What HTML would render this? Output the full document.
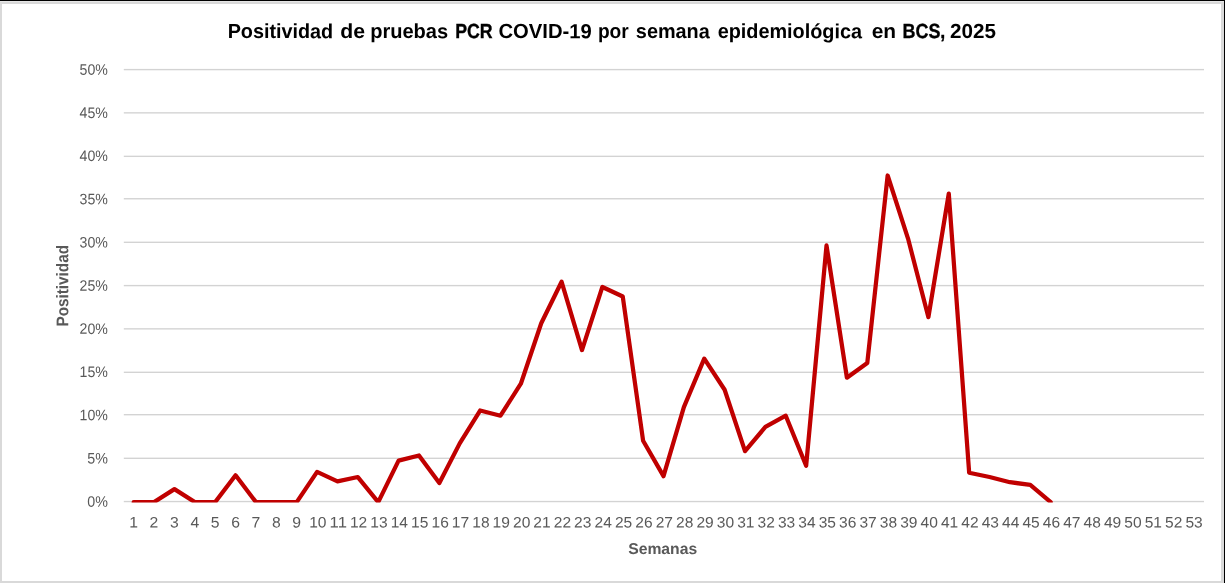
<!DOCTYPE html>
<html><head><meta charset="utf-8"><title>Positividad de pruebas PCR COVID-19</title>
<style>
html,body{margin:0;padding:0;background:#fff;}
body{width:1225px;height:583px;overflow:hidden;}
svg{display:block;will-change:transform;}
text{font-family:"Liberation Sans",sans-serif;}
.tick{font-size:15.2px;fill:#595959;}
.title{font-size:20.4px;font-weight:bold;fill:#000;}
.atitle{font-size:15.6px;font-weight:bold;fill:#595959;}
.vtitle{font-size:16.9px;font-weight:bold;fill:#595959;}
</style></head><body>
<svg width="1225" height="583" viewBox="0 0 1225 583">
<rect x="0" y="0" width="1225" height="583" fill="#fff"/>
<g shape-rendering="crispEdges">
<rect x="0" y="1" width="1224" height="3" fill="#d9d9d9"/>
<rect x="0" y="1" width="2" height="582" fill="#d9d9d9"/>
<rect x="1221" y="1" width="3" height="582" fill="#d9d9d9"/>
<rect x="0" y="581" width="1224" height="2" fill="#d9d9d9"/>
<rect x="0" y="1" width="1224" height="1" fill="#e6e6e6"/>
<rect x="0" y="0" width="1225" height="1" fill="#000"/>
<rect x="1224" y="0" width="1" height="583" fill="#000"/>
</g>
<rect x="123.8" y="500.86" width="1080.2" height="1.38" fill="#d3d3d3"/>
<rect x="123.8" y="457.61" width="1080.2" height="1.38" fill="#d3d3d3"/>
<rect x="123.8" y="414.01" width="1080.2" height="1.38" fill="#d3d3d3"/>
<rect x="123.8" y="371.61" width="1080.2" height="1.38" fill="#d3d3d3"/>
<rect x="123.8" y="328.16" width="1080.2" height="1.38" fill="#d3d3d3"/>
<rect x="123.8" y="284.91" width="1080.2" height="1.38" fill="#d3d3d3"/>
<rect x="123.8" y="241.61" width="1080.2" height="1.38" fill="#d3d3d3"/>
<rect x="123.8" y="198.06" width="1080.2" height="1.38" fill="#d3d3d3"/>
<rect x="123.8" y="155.66" width="1080.2" height="1.38" fill="#d3d3d3"/>
<rect x="123.8" y="112.16" width="1080.2" height="1.38" fill="#d3d3d3"/>
<rect x="123.8" y="68.91" width="1080.2" height="1.38" fill="#d3d3d3"/>

<defs><clipPath id="pc"><rect x="124" y="60" width="1080" height="442.4"/></clipPath></defs>
<polyline clip-path="url(#pc)" points="133.69,502.10 154.07,502.10 174.44,489.14 194.82,502.10 215.20,502.10 235.58,475.32 255.95,502.10 276.33,502.10 296.71,502.10 317.08,471.86 337.46,481.36 357.84,477.04 378.22,502.10 398.59,460.63 418.97,455.44 439.35,483.09 459.73,443.35 480.10,410.52 500.48,415.70 520.86,383.73 541.24,323.25 561.61,281.78 581.99,350.04 602.37,286.96 622.75,296.47 643.12,440.76 663.50,476.18 683.88,407.06 704.25,358.68 724.63,389.78 745.01,451.12 765.39,426.93 785.76,415.70 806.14,465.81 826.52,245.49 846.90,377.68 867.27,363.00 887.65,175.51 908.03,238.58 928.41,317.20 948.78,193.65 969.16,472.72 989.54,477.04 1009.92,482.23 1030.29,484.82 1050.67,502.10" fill="none" stroke="#c00000" stroke-width="4.25" stroke-linejoin="round" stroke-linecap="round"/>
<g>
<text x="87.30" y="506.70" textLength="20.60" lengthAdjust="spacingAndGlyphs" transform="rotate(0.1 97.6 501.7)" class="tick">0%</text>
<text x="87.30" y="463.50" textLength="20.60" lengthAdjust="spacingAndGlyphs" transform="rotate(0.1 97.6 458.5)" class="tick">5%</text>
<text x="79.60" y="420.30" textLength="28.30" lengthAdjust="spacingAndGlyphs" transform="rotate(0.1 93.8 415.3)" class="tick">10%</text>
<text x="79.60" y="377.10" textLength="28.30" lengthAdjust="spacingAndGlyphs" transform="rotate(0.1 93.8 372.1)" class="tick">15%</text>
<text x="79.60" y="333.90" textLength="28.30" lengthAdjust="spacingAndGlyphs" transform="rotate(0.1 93.8 328.9)" class="tick">20%</text>
<text x="79.60" y="290.70" textLength="28.30" lengthAdjust="spacingAndGlyphs" transform="rotate(0.1 93.8 285.7)" class="tick">25%</text>
<text x="79.60" y="247.50" textLength="28.30" lengthAdjust="spacingAndGlyphs" transform="rotate(0.1 93.8 242.5)" class="tick">30%</text>
<text x="79.60" y="204.30" textLength="28.30" lengthAdjust="spacingAndGlyphs" transform="rotate(0.1 93.8 199.3)" class="tick">35%</text>
<text x="79.60" y="161.10" textLength="28.30" lengthAdjust="spacingAndGlyphs" transform="rotate(0.1 93.8 156.1)" class="tick">40%</text>
<text x="79.60" y="117.90" textLength="28.30" lengthAdjust="spacingAndGlyphs" transform="rotate(0.1 93.8 112.9)" class="tick">45%</text>
<text x="79.60" y="74.70" textLength="28.30" lengthAdjust="spacingAndGlyphs" transform="rotate(0.1 93.8 69.7)" class="tick">50%</text>
<text x="129.26" y="527.55" textLength="8.75" lengthAdjust="spacingAndGlyphs" transform="rotate(0.1 133.6 522.5)" class="tick">1</text>
<text x="149.64" y="527.55" textLength="8.75" lengthAdjust="spacingAndGlyphs" transform="rotate(0.1 154.0 522.5)" class="tick">2</text>
<text x="170.02" y="527.55" textLength="8.75" lengthAdjust="spacingAndGlyphs" transform="rotate(0.1 174.4 522.5)" class="tick">3</text>
<text x="190.40" y="527.55" textLength="8.75" lengthAdjust="spacingAndGlyphs" transform="rotate(0.1 194.8 522.5)" class="tick">4</text>
<text x="210.77" y="527.55" textLength="8.75" lengthAdjust="spacingAndGlyphs" transform="rotate(0.1 215.1 522.5)" class="tick">5</text>
<text x="231.15" y="527.55" textLength="8.75" lengthAdjust="spacingAndGlyphs" transform="rotate(0.1 235.5 522.5)" class="tick">6</text>
<text x="251.53" y="527.55" textLength="8.75" lengthAdjust="spacingAndGlyphs" transform="rotate(0.1 255.9 522.5)" class="tick">7</text>
<text x="271.91" y="527.55" textLength="8.75" lengthAdjust="spacingAndGlyphs" transform="rotate(0.1 276.3 522.5)" class="tick">8</text>
<text x="292.28" y="527.55" textLength="8.75" lengthAdjust="spacingAndGlyphs" transform="rotate(0.1 296.7 522.5)" class="tick">9</text>
<text x="309.23" y="527.55" textLength="17.30" lengthAdjust="spacingAndGlyphs" transform="rotate(0.1 317.9 522.5)" class="tick">10</text>
<text x="329.61" y="527.55" textLength="17.30" lengthAdjust="spacingAndGlyphs" transform="rotate(0.1 338.3 522.5)" class="tick">11</text>
<text x="349.99" y="527.55" textLength="17.30" lengthAdjust="spacingAndGlyphs" transform="rotate(0.1 358.6 522.5)" class="tick">12</text>
<text x="370.37" y="527.55" textLength="17.30" lengthAdjust="spacingAndGlyphs" transform="rotate(0.1 379.0 522.5)" class="tick">13</text>
<text x="390.74" y="527.55" textLength="17.30" lengthAdjust="spacingAndGlyphs" transform="rotate(0.1 399.4 522.5)" class="tick">14</text>
<text x="411.12" y="527.55" textLength="17.30" lengthAdjust="spacingAndGlyphs" transform="rotate(0.1 419.8 522.5)" class="tick">15</text>
<text x="431.50" y="527.55" textLength="17.30" lengthAdjust="spacingAndGlyphs" transform="rotate(0.1 440.1 522.5)" class="tick">16</text>
<text x="451.88" y="527.55" textLength="17.30" lengthAdjust="spacingAndGlyphs" transform="rotate(0.1 460.5 522.5)" class="tick">17</text>
<text x="472.25" y="527.55" textLength="17.30" lengthAdjust="spacingAndGlyphs" transform="rotate(0.1 480.9 522.5)" class="tick">18</text>
<text x="492.63" y="527.55" textLength="17.30" lengthAdjust="spacingAndGlyphs" transform="rotate(0.1 501.3 522.5)" class="tick">19</text>
<text x="513.01" y="527.55" textLength="17.30" lengthAdjust="spacingAndGlyphs" transform="rotate(0.1 521.7 522.5)" class="tick">20</text>
<text x="533.39" y="527.55" textLength="17.30" lengthAdjust="spacingAndGlyphs" transform="rotate(0.1 542.0 522.5)" class="tick">21</text>
<text x="553.76" y="527.55" textLength="17.30" lengthAdjust="spacingAndGlyphs" transform="rotate(0.1 562.4 522.5)" class="tick">22</text>
<text x="574.14" y="527.55" textLength="17.30" lengthAdjust="spacingAndGlyphs" transform="rotate(0.1 582.8 522.5)" class="tick">23</text>
<text x="594.52" y="527.55" textLength="17.30" lengthAdjust="spacingAndGlyphs" transform="rotate(0.1 603.2 522.5)" class="tick">24</text>
<text x="614.90" y="527.55" textLength="17.30" lengthAdjust="spacingAndGlyphs" transform="rotate(0.1 623.5 522.5)" class="tick">25</text>
<text x="635.27" y="527.55" textLength="17.30" lengthAdjust="spacingAndGlyphs" transform="rotate(0.1 643.9 522.5)" class="tick">26</text>
<text x="655.65" y="527.55" textLength="17.30" lengthAdjust="spacingAndGlyphs" transform="rotate(0.1 664.3 522.5)" class="tick">27</text>
<text x="676.03" y="527.55" textLength="17.30" lengthAdjust="spacingAndGlyphs" transform="rotate(0.1 684.7 522.5)" class="tick">28</text>
<text x="696.40" y="527.55" textLength="17.30" lengthAdjust="spacingAndGlyphs" transform="rotate(0.1 705.1 522.5)" class="tick">29</text>
<text x="716.78" y="527.55" textLength="17.30" lengthAdjust="spacingAndGlyphs" transform="rotate(0.1 725.4 522.5)" class="tick">30</text>
<text x="737.16" y="527.55" textLength="17.30" lengthAdjust="spacingAndGlyphs" transform="rotate(0.1 745.8 522.5)" class="tick">31</text>
<text x="757.54" y="527.55" textLength="17.30" lengthAdjust="spacingAndGlyphs" transform="rotate(0.1 766.2 522.5)" class="tick">32</text>
<text x="777.91" y="527.55" textLength="17.30" lengthAdjust="spacingAndGlyphs" transform="rotate(0.1 786.6 522.5)" class="tick">33</text>
<text x="798.29" y="527.55" textLength="17.30" lengthAdjust="spacingAndGlyphs" transform="rotate(0.1 806.9 522.5)" class="tick">34</text>
<text x="818.67" y="527.55" textLength="17.30" lengthAdjust="spacingAndGlyphs" transform="rotate(0.1 827.3 522.5)" class="tick">35</text>
<text x="839.05" y="527.55" textLength="17.30" lengthAdjust="spacingAndGlyphs" transform="rotate(0.1 847.7 522.5)" class="tick">36</text>
<text x="859.42" y="527.55" textLength="17.30" lengthAdjust="spacingAndGlyphs" transform="rotate(0.1 868.1 522.5)" class="tick">37</text>
<text x="879.80" y="527.55" textLength="17.30" lengthAdjust="spacingAndGlyphs" transform="rotate(0.1 888.5 522.5)" class="tick">38</text>
<text x="900.18" y="527.55" textLength="17.30" lengthAdjust="spacingAndGlyphs" transform="rotate(0.1 908.8 522.5)" class="tick">39</text>
<text x="920.56" y="527.55" textLength="17.30" lengthAdjust="spacingAndGlyphs" transform="rotate(0.1 929.2 522.5)" class="tick">40</text>
<text x="940.93" y="527.55" textLength="17.30" lengthAdjust="spacingAndGlyphs" transform="rotate(0.1 949.6 522.5)" class="tick">41</text>
<text x="961.31" y="527.55" textLength="17.30" lengthAdjust="spacingAndGlyphs" transform="rotate(0.1 970.0 522.5)" class="tick">42</text>
<text x="981.69" y="527.55" textLength="17.30" lengthAdjust="spacingAndGlyphs" transform="rotate(0.1 990.3 522.5)" class="tick">43</text>
<text x="1002.07" y="527.55" textLength="17.30" lengthAdjust="spacingAndGlyphs" transform="rotate(0.1 1010.7 522.5)" class="tick">44</text>
<text x="1022.44" y="527.55" textLength="17.30" lengthAdjust="spacingAndGlyphs" transform="rotate(0.1 1031.1 522.5)" class="tick">45</text>
<text x="1042.82" y="527.55" textLength="17.30" lengthAdjust="spacingAndGlyphs" transform="rotate(0.1 1051.5 522.5)" class="tick">46</text>
<text x="1063.20" y="527.55" textLength="17.30" lengthAdjust="spacingAndGlyphs" transform="rotate(0.1 1071.8 522.5)" class="tick">47</text>
<text x="1083.57" y="527.55" textLength="17.30" lengthAdjust="spacingAndGlyphs" transform="rotate(0.1 1092.2 522.5)" class="tick">48</text>
<text x="1103.95" y="527.55" textLength="17.30" lengthAdjust="spacingAndGlyphs" transform="rotate(0.1 1112.6 522.5)" class="tick">49</text>
<text x="1124.33" y="527.55" textLength="17.30" lengthAdjust="spacingAndGlyphs" transform="rotate(0.1 1133.0 522.5)" class="tick">50</text>
<text x="1144.71" y="527.55" textLength="17.30" lengthAdjust="spacingAndGlyphs" transform="rotate(0.1 1153.4 522.5)" class="tick">51</text>
<text x="1165.08" y="527.55" textLength="17.30" lengthAdjust="spacingAndGlyphs" transform="rotate(0.1 1173.7 522.5)" class="tick">52</text>
<text x="1185.46" y="527.55" textLength="17.30" lengthAdjust="spacingAndGlyphs" transform="rotate(0.1 1194.1 522.5)" class="tick">53</text>
<text x="227.69" y="38.10" textLength="105.50" lengthAdjust="spacingAndGlyphs" transform="rotate(0.1 280.4 31.1)" class="title">Positividad</text>
<text x="340.23" y="38.10" textLength="24.72" lengthAdjust="spacingAndGlyphs" transform="rotate(0.1 352.6 31.1)" class="title">de</text>
<text x="370.21" y="38.10" textLength="77.93" lengthAdjust="spacingAndGlyphs" transform="rotate(0.1 409.2 31.1)" class="title">pruebas</text>
<text x="455.22" y="38.10" textLength="37.42" lengthAdjust="spacingAndGlyphs" transform="rotate(0.1 473.9 31.1)" class="title" stroke="#000" stroke-width="0.35">PCR</text>
<text x="498.53" y="38.10" textLength="93.27" lengthAdjust="spacingAndGlyphs" transform="rotate(0.1 545.2 31.1)" class="title">COVID-19</text>
<text x="597.90" y="38.10" textLength="30.84" lengthAdjust="spacingAndGlyphs" transform="rotate(0.1 613.3 31.1)" class="title">por</text>
<text x="635.87" y="38.10" textLength="73.93" lengthAdjust="spacingAndGlyphs" transform="rotate(0.1 672.8 31.1)" class="title">semana</text>
<text x="717.66" y="38.10" textLength="144.38" lengthAdjust="spacingAndGlyphs" transform="rotate(0.1 789.8 31.1)" class="title">epidemiológica</text>
<text x="871.78" y="38.10" textLength="24.38" lengthAdjust="spacingAndGlyphs" transform="rotate(0.1 884.0 31.1)" class="title">en</text>
<text x="902.55" y="38.10" textLength="42.75" lengthAdjust="spacingAndGlyphs" transform="rotate(0.1 923.9 31.1)" class="title" stroke="#000" stroke-width="0.35">BCS,</text>
<text x="950.14" y="38.10" textLength="45.85" lengthAdjust="spacingAndGlyphs" transform="rotate(0.1 973.1 31.1)" class="title">2025</text>

<text x="628.20" y="553.95" textLength="69.00" lengthAdjust="spacingAndGlyphs" transform="rotate(0.1 662.7 548.5)" class="atitle">Semanas</text>

<text transform="translate(68.2,326.5) rotate(-89.9)" x="0" y="0" textLength="81.5" lengthAdjust="spacingAndGlyphs" class="vtitle">Positividad</text>
</g>
</svg>
</body></html>
